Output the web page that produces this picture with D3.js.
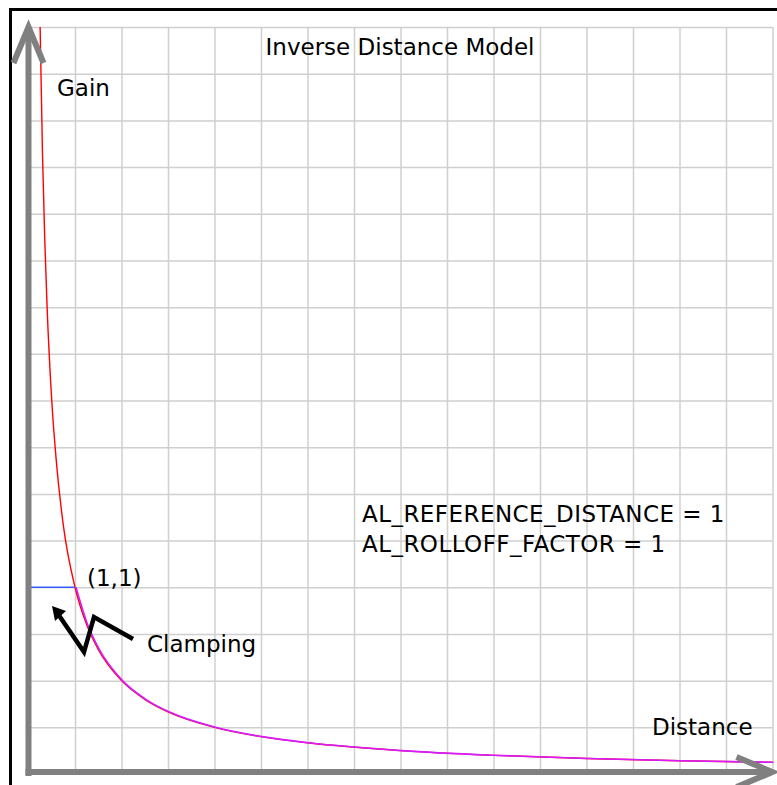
<!DOCTYPE html>
<html>
<head>
<meta charset="utf-8">
<script src="https://cdn.jsdelivr.net/npm/d3@7"></script>
<style>
  body { margin: 0; background: #fff; }
  svg { display: block; font-family: "DejaVu Sans", sans-serif; }
  .grid line { stroke: #cfcfcf; stroke-width: 1.5; }
  .grid path { display: none; }
  .grid text { display: none; }
</style>
</head>
<body>
<svg width="777" height="785"></svg>
<script>
// values (gain vs distance)
const distances = [0.25, 0.3, 0.35, 0.4, 0.5, 0.6, 0.75, 1, 1.25, 1.5, 2, 2.5, 3, 4, 5, 6, 8, 10, 12, 14, 16];
const gains     = [4, 3.33, 2.86, 2.5, 2, 1.67, 1.33, 1, 0.8, 0.667, 0.5, 0.4, 0.333, 0.25, 0.2, 0.167, 0.125, 0.1, 0.083, 0.071, 0.0625];
const clampDist = [0, 1];
const clampGain = [1, 1];
const refPoint = [1, 1];
const paramLabels = ['AL_REFERENCE_DISTANCE = 1', 'AL_ROLLOFF_FACTOR = 1'];

const fs = 23;
const svg = d3.select('svg');

const x = d3.scaleLinear().domain([0, 16]).range([28.5, 772.5]);
const y = d3.scaleLinear().domain([0, 4]).range([774, 27]);

// frame
svg.append('rect')
  .attr('x', 10.5).attr('y', 9.5)
  .attr('width', 800).attr('height', 800)
  .attr('fill', 'none').attr('stroke', '#000').attr('stroke-width', 3);

// grid via axes
svg.append('g')
  .attr('class', 'grid')
  .attr('transform', `translate(0,${y(0)})`)
  .call(d3.axisBottom(x).tickValues(d3.range(1, 17)).tickSize(-(y(0) - y(4))).tickFormat(''));

svg.append('g')
  .attr('class', 'grid')
  .attr('transform', `translate(${x(0)},0)`)
  .call(d3.axisLeft(y).tickValues(d3.range(1, 17).map(d => d / 4)).tickSize(-(x(16) - x(0))).tickFormat(''));

// title
svg.append('text')
  .attr('x', 400).attr('y', 55)
  .attr('text-anchor', 'middle')
  .attr('font-size', fs)
  .text('Inverse Distance Model');

const pts = distances.map((d, i) => [d, gains[i]]);
const line = d3.line()
  .x(d => x(d[0]))
  .y(d => y(d[1]))
  .curve(d3.curveMonotoneX);

// unclamped curve
svg.append('path')
  .datum(pts)
  .attr('d', line)
  .attr('fill', 'none')
  .attr('stroke', '#ff0000')
  .attr('stroke-width', 1.4);

// clamped part of the curve
svg.append('path')
  .datum(pts.filter(d => d[0] >= 1))
  .attr('d', line)
  .attr('transform', 'translate(1,0)')
  .attr('fill', 'none')
  .attr('stroke', '#d41cff')
  .attr('stroke-width', 1.6);

// clamp level
svg.append('path')
  .datum(clampDist.map((d, i) => [d, clampGain[i]]))
  .attr('d', d3.line().x(d => x(d[0])).y(d => y(d[1])))
  .attr('stroke', '#3a5cff')
  .attr('stroke-width', 1.4);

// axes with arrows
const axisColor = '#808080';
svg.append('line')
  .attr('x1', x(0)).attr('y1', y(0) + 2)
  .attr('x2', x(0)).attr('y2', y(4))
  .attr('stroke', axisColor).attr('stroke-width', 6);
svg.append('polyline')
  .attr('points', `${x(0) - 15},${y(4) + 36} ${x(0)},${y(4)} ${x(0) + 15},${y(4) + 36}`)
  .attr('fill', 'none').attr('stroke', axisColor).attr('stroke-width', 6)
  .attr('stroke-linejoin', 'miter');

svg.append('line')
  .attr('x1', x(0) - 3).attr('y1', y(0) - 2)
  .attr('x2', x(16)).attr('y2', y(0) - 2)
  .attr('stroke', axisColor).attr('stroke-width', 6);
svg.append('polyline')
  .attr('points', `${x(16) - 36},${y(0) - 17} ${x(16)},${y(0) - 2} ${x(16) - 36},${y(0) + 13}`)
  .attr('fill', 'none').attr('stroke', axisColor).attr('stroke-width', 6)
  .attr('stroke-linejoin', 'miter');

// labels
svg.append('text').attr('x', 57).attr('y', 96).attr('font-size', fs).text('Gain');
svg.append('text').attr('x', 652).attr('y', 735).attr('font-size', fs).text('Distance');
svg.append('text')
  .attr('x', x(refPoint[0]) + 12).attr('y', y(refPoint[1]) - 1)
  .attr('font-size', fs).text(`(${refPoint[0]},${refPoint[1]})`);

svg.selectAll('.param')
  .data(paramLabels)
  .enter()
  .append('text')
  .attr('class', 'param')
  .attr('x', 362)
  .attr('y', (d, i) => 522 + i * 30)
  .attr('font-size', fs)
  .attr('letter-spacing', 0.45)
  .text(d => d);

// clamping pointer
svg.append('text').attr('x', 147).attr('y', 652).attr('font-size', fs).text('Clamping');
svg.append('polyline')
  .attr('points', '133,639 94,617 84,652 58,614')
  .attr('fill', 'none').attr('stroke', '#000').attr('stroke-width', 4.5)
  .attr('stroke-linejoin', 'miter');
svg.append('path')
  .attr('d', 'M52,606 L66,611 L55,621 Z')
  .attr('fill', '#000');
</script>
</body>
</html>
